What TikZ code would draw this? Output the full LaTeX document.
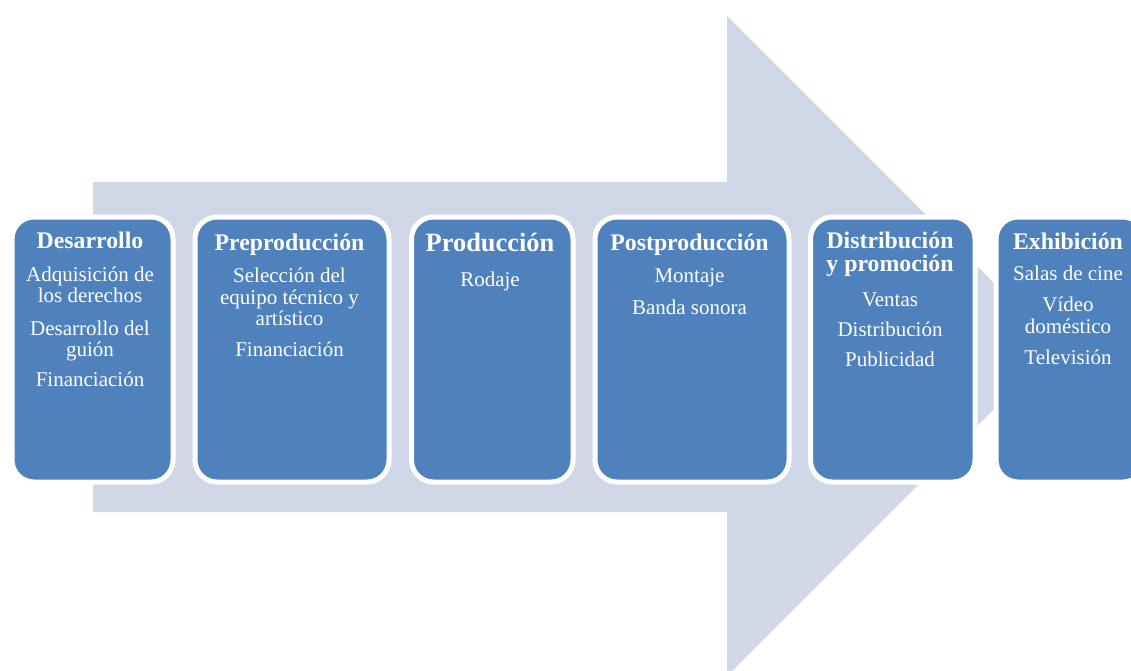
\documentclass[tikz,border=0pt]{standalone}
\usepackage{fontspec}
\setmainfont{Liberation Serif}
\definecolor{arrowfill}{HTML}{D0D8E8}
\definecolor{boxfill}{HTML}{4F81BD}
\begin{document}
\begin{tikzpicture}[x=1pt,y=-1pt,
  stagebox/.style={fill=boxfill, draw=white, line width=5pt, rounded corners=22pt,
    minimum height=265pt, anchor=north west, inner sep=0pt},
  ttl/.style={anchor=base, text=white, inner sep=0pt,
    font=\bfseries\fontsize{23.8}{23.4}\selectfont},
  bigttl/.style={ttl, font=\bfseries\fontsize{26.4}{26.4}\selectfont},
  itm/.style={anchor=base, text=white, inner sep=0pt,
    font=\fontsize{21}{21.5}\selectfont}]
\clip (0,0) rectangle (1131,670);
\fill[white] (0,0) rectangle (1131,670);
% big background arrow
\fill[arrowfill] (93,182) -- (727,182) -- (727,16) -- (1057,346) -- (727,676)
  -- (727,512) -- (93,512) -- cycle;
% stage boxes
\node[stagebox, minimum width=161pt] (b1) at (9.5,214.5) {};
\node[stagebox, minimum width=194pt] (b2) at (192.5,214.5) {};
\node[stagebox, minimum width=161.5pt] (b3) at (409,214.5) {};
\node[stagebox, minimum width=194pt] (b4) at (592.5,214.5) {};
\node[stagebox, minimum width=164.5pt] (b5) at (808,214.5) {};
\node[stagebox, minimum width=149pt] (b6) at (993.5,214.5) {};
% box 1
\node[ttl] (t1) at (90,248.3) {Desarrollo};
\node[itm] (t1a) at (90,281.7) {Adquisición de};
\node[itm] (t1a2) at (90,302.7) {los derechos};
\node[itm] (t1b) at (90,335) {Desarrollo del};
\node[itm] (t1b2) at (90,356) {guión};
\node[itm] (t1c) at (90,386.7) {Financiación};
% box 2
\node[ttl] (t2) at (289.5,250.7) {Preproducción};
\node[itm] (t2a) at (289.5,282.7) {Selección del};
\node[itm] (t2a2) at (289.5,304) {equipo técnico y};
\node[itm] (t2a3) at (289.5,325.5) {artístico};
\node[itm] (t2b) at (289.5,356.7) {Financiación};
% box 3
\node[bigttl] (t3) at (490,251.7) {Producción};
\node[itm] (t3a) at (490,286) {Rodaje};
% box 4
\node[ttl] (t4) at (689.5,250.7) {Postproducción};
\node[itm] (t4a) at (689.5,282.7) {Montaje};
\node[itm] (t4b) at (689.5,314) {Banda sonora};
% box 5
\node[ttl] (t5) at (890,248.3) {Distribución};
\node[ttl] (t5t2) at (890,271.7) {y promoción};
\node[itm] (t5a) at (890,306) {Ventas};
\node[itm] (t5b) at (890,336.7) {Distribución};
\node[itm] (t5c) at (890,366.7) {Publicidad};
% box 6
\node[ttl] (t6) at (1068,249.3) {Exhibición};
\node[itm] (t6a) at (1068,280.7) {Salas de cine};
\node[itm] (t6b) at (1068,311) {Vídeo};
\node[itm] (t6b2) at (1068,333) {doméstico};
\node[itm] (t6c) at (1068,364) {Televisión};
\end{tikzpicture}
\end{document}
